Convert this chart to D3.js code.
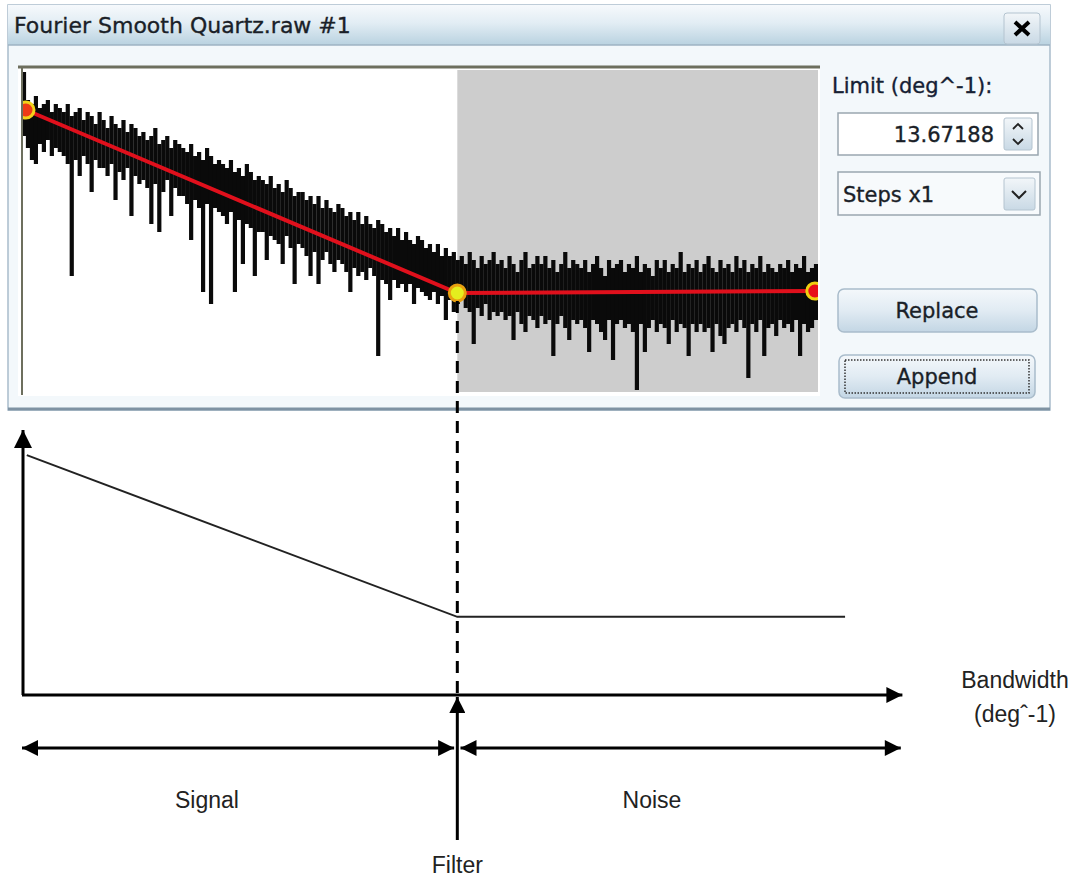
<!DOCTYPE html>
<html>
<head>
<meta charset="utf-8">
<script src="https://cdn.jsdelivr.net/npm/d3@7"></script>
<style>
body{margin:0;background:#fff;}
svg{display:block;font-family:"DejaVu Sans",sans-serif;}
.ui{fill:#1a1f28;stroke:#1a1f28;stroke-width:0.35px;}
</style>
</head>
<body>
<svg id="chart" width="1083" height="880"></svg>
<script>
// espectro: tope y fondo de cada columna (amplitud log)
var specTop = [
	80,73,72,74,71,72,73,70,72,71,
	70,72,69,70,71,68,70,69,67,70,
	68,66,69,67,66,68,65,67,66,64,
	65,63,64,66,62,63,64,61,63,62,
	61,60,62,59,60,58,61,59,57,58,
	57,56,58,55,56,54,57,55,53,54,
	53,52,54,51,52,50,53,51,49,50,
	50,48,49,47,49,46,48,46,45,47,
	46,44,45,43,45,42,44,42,41,43,
	42,40,41,39,41,38,40,38,37,39,
	38,36,37,35,37,34,36,34,35,33,
	34,32,35,33,31,34,32,33,35,32,
	33,31,34,32,30,33,35,31,32,34,
	32,34,31,33,30,32,35,31,33,32,
	31,33,30,32,34,31,29,33,31,32,
	33,30,32,31,34,30,32,31,29,33,
	31,33,30,32,31,35,30,32,31,33,
	30,32,34,31,30,33,31,32,30,34,
	31,33,30,32,31,34,30,32,31,30,
	32,31,33,30,32,31,34,30,31,32
];
var specLow = [
	64,61,58,57,62,60,63,59,61,60,
	59,57,29,58,54,59,57,50,58,56,
	56,54,57,48,55,53,56,44,54,52,
	53,51,42,52,40,50,53,44,51,49,
	49,47,38,48,46,25,47,22,46,45,
	44,42,45,25,43,32,42,41,29,40,
	40,33,39,38,37,32,39,36,27,37,
	36,34,29,35,27,33,35,32,30,33,
	32,30,25,31,29,30,28,31,29,9,
	28,27,23,28,26,27,25,27,22,26,
	25,24,23,25,22,24,18,23,20,22,
	23,21,20,12,21,19,22,18,20,19,
	20,18,19,13,20,17,15,19,18,16,
	19,17,18,9,17,19,16,13,18,17,
	18,16,10,18,17,15,13,18,8,17,
	18,16,17,15,0.5,17,10,16,18,15,
	17,16,12,18,15,17,16,9,17,15,
	17,15,16,10,17,14,12,16,17,15,
	18,16,3.5,17,15,18,9,16,17,14,
	18,16,17,15,18,9,17,15,16,18
];
var freqStep = 0.125;               // deg^-1 por columna
var fitFreq = [0.125, 13.67188, 24.9];
var fitAmp = [70.5, 24.75, 25.25];
var limitFreq = 13.67188;
var maxFreq = 25;
// esquema de abajo
var schemFreq = [0.15, 13.67188, 25.85];
var schemAmp = [9.05, 2.95, 2.95];
var regions = ["Signal", "Noise"];

var svg = d3.select("#chart");
var defs = svg.append("defs");

var x = d3.scaleLinear().domain([0, maxFreq]).range([22, 818]);
var y = d3.scaleLinear().domain([0, 80.5]).range([392, 70]);
var yd = d3.scaleLinear().domain([0, 10]).range([695, 430]);

// gradientes
function grad(id, stops){
	var g = defs.append("linearGradient").attr("id", id)
		.attr("x1",0).attr("y1",0).attr("x2",0).attr("y2",1);
	stops.forEach(function(s){ g.append("stop").attr("offset", s[0]).attr("stop-color", s[1]); });
}
grad("gTitle", [[0,"#f6f9fc"],[0.45,"#e2edf4"],[1,"#b9d2e0"]]);
grad("gBtn", [[0,"#f4f8fb"],[0.5,"#e1ebf3"],[1,"#c3d6e4"]]);
grad("gSmall", [[0,"#f2f6f9"],[1,"#c9d9e5"]]);

// flechas
function marker(id, w, h){
	defs.append("marker").attr("id", id)
		.attr("viewBox", "0 0 10 10").attr("refX", 10).attr("refY", 5)
		.attr("markerUnits", "userSpaceOnUse")
		.attr("markerWidth", w).attr("markerHeight", h)
		.attr("orient", "auto-start-reverse")
		.append("path").attr("d", "M0,0L10,5L0,10z").attr("fill", "#000");
}
marker("arrBig", 20, 18);
marker("arrMid", 20, 16);

// ventana
svg.append("rect").attr("x", 8).attr("y", 5).attr("width", 1042).attr("height", 405)
	.attr("fill", "#f3f8fb").attr("stroke", "#a9bccb").attr("stroke-width", 1.5);
svg.append("rect").attr("x", 8).attr("y", 5).attr("width", 1042).attr("height", 40)
	.attr("fill", "url(#gTitle)");
svg.append("line").attr("x1", 8).attr("x2", 1050).attr("y1", 45).attr("y2", 45)
	.attr("stroke", "#9eb3c3").attr("stroke-width", 1.5);
svg.append("line").attr("x1", 8).attr("x2", 1050).attr("y1", 409).attr("y2", 409)
	.attr("stroke", "#7f93a3").attr("stroke-width", 3);
svg.append("text").attr("class", "ui").attr("x", 14).attr("y", 33).attr("font-size", 22)
	.text("Fourier Smooth Quartz.raw #1");
// boton cerrar
svg.append("rect").attr("x", 1004).attr("y", 13).attr("width", 36).attr("height", 31).attr("rx", 3)
	.attr("fill", "url(#gSmall)").attr("stroke", "#b4c4d0");
svg.append("path").attr("d", "M1015,22L1029,35M1029,22L1015,35")
	.attr("stroke", "#000").attr("stroke-width", 4);

// area del grafico
svg.append("rect").attr("x", 18).attr("y", 66).attr("width", 802).attr("height", 330)
	.attr("fill", "#fff");
svg.append("rect").attr("x", x(limitFreq)).attr("y", y(80.5))
	.attr("width", x(maxFreq) - x(limitFreq)).attr("height", y(0) - y(80.5))
	.attr("fill", "#cdcdcd");

defs.append("clipPath").attr("id", "plotClip").append("rect")
	.attr("x", 22).attr("y", 68).attr("width", 796).attr("height", 326);
var plot = svg.append("g").attr("clip-path", "url(#plotClip)");

var cols = specTop.map(function(t, i){ return {f: freqStep * (i + 0.5), hi: t, lo: specLow[i]}; });
plot.selectAll("line.col").data(cols).enter().append("line").attr("class", "col")
	.attr("x1", function(d){ return x(d.f); }).attr("x2", function(d){ return x(d.f); })
	.attr("y1", function(d){ return y(d.hi); }).attr("y2", function(d){ return y(d.lo); })
	.attr("stroke", "#0a0a0a").attr("stroke-width", 4.2);

var fit = fitFreq.map(function(f, i){ return [f, fitAmp[i]]; });
plot.append("path").datum(fit)
	.attr("d", d3.line().x(function(d){ return x(d[0]); }).y(function(d){ return y(d[1]); }))
	.attr("fill", "none").attr("stroke", "#e0101c").attr("stroke-width", 4);
var dotFill = ["#ee3a16", "#e4ee1e", "#e8101a"];
var dotStroke = ["#f2d21a", "#e8a010", "#f0d010"];
plot.selectAll("circle.pt").data(fit).enter().append("circle").attr("class", "pt")
	.attr("cx", function(d){ return x(d[0]); }).attr("cy", function(d){ return y(d[1]); })
	.attr("r", 8)
	.attr("fill", function(d, i){ return dotFill[i]; })
	.attr("stroke", function(d, i){ return dotStroke[i]; }).attr("stroke-width", 3);

// bordes del grafico
svg.append("line").attr("x1", 18).attr("x2", 820).attr("y1", 67).attr("y2", 67)
	.attr("stroke", "#6d6f5e").attr("stroke-width", 3);
svg.append("line").attr("x1", 22).attr("x2", 22).attr("y1", 67).attr("y2", 395)
	.attr("stroke", "#6d6f5e").attr("stroke-width", 2);

// panel derecho
svg.append("text").attr("class", "ui").attr("x", 832).attr("y", 93).attr("font-size", 21)
	.style("fill", "#14213a").text("Limit (deg^-1):");
svg.append("rect").attr("x", 838).attr("y", 113).attr("width", 200).attr("height", 42)
	.attr("fill", "#fff").attr("stroke", "#9aa6b0").attr("stroke-width", 1.5);
svg.append("text").attr("class", "ui").attr("x", 994).attr("y", 142).attr("text-anchor", "end")
	.attr("font-size", 21).text(limitFreq.toFixed(5));
svg.append("rect").attr("x", 1004).attr("y", 118).attr("width", 28).attr("height", 32).attr("rx", 2)
	.attr("fill", "url(#gSmall)").attr("stroke", "#b4c4d0");
svg.append("path").attr("d", "M1013,129L1018,124L1023,129M1013,139L1018,144L1023,139")
	.attr("fill", "none").attr("stroke", "#222").attr("stroke-width", 1.8);

svg.append("rect").attr("x", 838).attr("y", 172).attr("width", 202).attr("height", 43)
	.attr("fill", "#f7fafc").attr("stroke", "#9aa6b0").attr("stroke-width", 1.5);
svg.append("text").attr("class", "ui").attr("x", 843).attr("y", 202).attr("font-size", 21)
	.text("Steps x1");
svg.append("rect").attr("x", 1004).attr("y", 178).attr("width", 31).attr("height", 32).attr("rx", 2)
	.attr("fill", "url(#gSmall)").attr("stroke", "#b4c4d0");
svg.append("path").attr("d", "M1012,191L1019,198L1026,191")
	.attr("fill", "none").attr("stroke", "#222").attr("stroke-width", 2);

svg.append("rect").attr("x", 838).attr("y", 289).attr("width", 199).attr("height", 43).attr("rx", 6)
	.attr("fill", "url(#gBtn)").attr("stroke", "#a9bccb").attr("stroke-width", 1.5);
svg.append("text").attr("class", "ui").attr("x", 937).attr("y", 318).attr("text-anchor", "middle")
	.attr("font-size", 21).text("Replace");
svg.append("rect").attr("x", 839).attr("y", 355).attr("width", 196).attr("height", 43).attr("rx", 6)
	.attr("fill", "url(#gBtn)").attr("stroke", "#a9bccb").attr("stroke-width", 1.5);
svg.append("rect").attr("x", 845).attr("y", 360).attr("width", 184).attr("height", 33)
	.attr("fill", "none").attr("stroke", "#333").attr("stroke-width", 1.5).attr("stroke-dasharray", "1.5,1.5");
svg.append("text").attr("class", "ui").attr("x", 937).attr("y", 384).attr("text-anchor", "middle")
	.attr("font-size", 21).text("Append");

// esquema inferior
var diag = svg.append("g").attr("font-family", "'Liberation Sans', Arial, sans-serif");
diag.append("line").attr("x1", x(0) + 1).attr("x2", x(0) + 1).attr("y1", yd(0)).attr("y2", yd(10))
	.attr("stroke", "#000").attr("stroke-width", 3).attr("marker-end", "url(#arrBig)");
diag.append("line").attr("x1", x(0)).attr("x2", x(27.65)).attr("y1", yd(0)).attr("y2", yd(0))
	.attr("stroke", "#000").attr("stroke-width", 3).attr("marker-end", "url(#arrMid)");

var schem = schemFreq.map(function(f, i){ return [f, schemAmp[i]]; });
diag.append("path").datum(schem)
	.attr("d", d3.line().x(function(d){ return x(d[0]); }).y(function(d){ return yd(d[1]); }))
	.attr("fill", "none").attr("stroke", "#222").attr("stroke-width", 2);

diag.append("line").attr("x1", x(limitFreq)).attr("x2", x(limitFreq))
	.attr("y1", y(fitAmp[1]) + 8).attr("y2", yd(0))
	.attr("stroke", "#000").attr("stroke-width", 3).attr("stroke-dasharray", "12,8");
diag.append("line").attr("x1", x(limitFreq)).attr("x2", x(limitFreq))
	.attr("y1", 840).attr("y2", yd(0) + 2)
	.attr("stroke", "#000").attr("stroke-width", 3).attr("marker-end", "url(#arrMid)");

var spans = [[0, limitFreq - 0.1], [limitFreq + 0.1, 27.6]];
diag.selectAll("line.span").data(spans).enter().append("line").attr("class", "span")
	.attr("x1", function(d){ return x(d[0]); }).attr("x2", function(d){ return x(d[1]); })
	.attr("y1", 748).attr("y2", 748)
	.attr("stroke", "#000").attr("stroke-width", 3)
	.attr("marker-start", "url(#arrMid)").attr("marker-end", "url(#arrMid)");
diag.selectAll("text.reg").data(regions).enter().append("text").attr("class", "reg")
	.attr("x", function(d, i){ return i == 0 ? 207 : 652; }).attr("y", 808)
	.attr("text-anchor", "middle").attr("font-size", 23).attr("fill", "#222")
	.text(function(d){ return d; });
diag.append("text").attr("x", x(limitFreq)).attr("y", 873).attr("text-anchor", "middle")
	.attr("font-size", 23).attr("fill", "#222").text("Filter");
diag.append("text").attr("x", 1015).attr("y", 688).attr("text-anchor", "middle")
	.attr("font-size", 23).attr("fill", "#222").text("Bandwidth");
diag.append("text").attr("x", 1015).attr("y", 722).attr("text-anchor", "middle")
	.attr("font-size", 23).attr("fill", "#222").text("(deg\u02c6-1)");
</script>
</body>
</html>
